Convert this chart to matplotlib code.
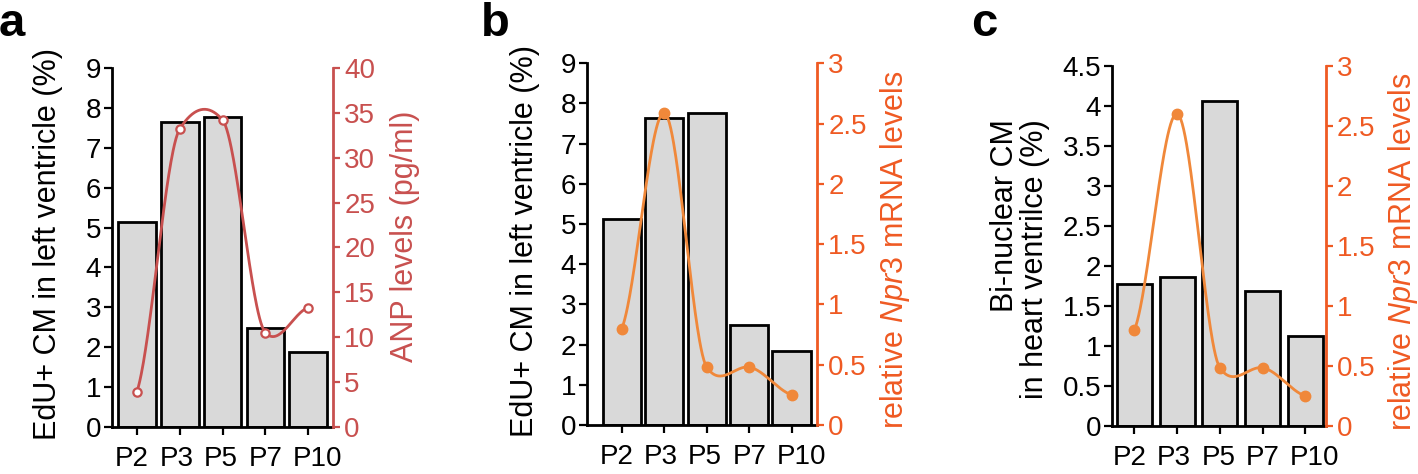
import numpy as np
import matplotlib
matplotlib.use("Agg")
import matplotlib.pyplot as plt

plt.rcParams['font.family'] = ['Liberation Sans', 'DejaVu Sans']
plt.rcParams['mathtext.fontset'] = 'custom'
plt.rcParams['mathtext.rm'] = 'Liberation Sans'
plt.rcParams['mathtext.it'] = 'Liberation Sans:italic'

# ---------------- data ----------------
days = ["P2", "P3", "P5", "P7", "P10"]
edu_cm_a = [5.15, 7.65, 7.78, 2.48, 1.87]
anp_levels = [3.9, 33.2, 34.2, 10.5, 13.3]
edu_cm_b = [5.13, 7.64, 7.76, 2.49, 1.84]
npr3_b = [0.80, 2.59, 0.48, 0.48, 0.25]
binuc_cm_c = [1.77, 1.86, 4.06, 1.68, 1.13]
npr3_c = [0.80, 2.60, 0.485, 0.485, 0.25]

edu_ticks = [0, 1, 2, 3, 4, 5, 6, 7, 8, 9]
anp_ticks = [0, 5, 10, 15, 20, 25, 30, 35, 40]
npr3_ticks = [0, 0.5, 1, 1.5, 2, 2.5, 3]
binuc_ticks = [0, 0.5, 1, 1.5, 2, 2.5, 3, 3.5, 4, 4.5]

RED = "#c8504f"
ORANGE_AX = "#ef5a23"
ORANGE_LN = "#f0883a"
BAR = "#d9d9d9"
FS = 20
LFS = 22


def smooth_curve(x, y, s=0.5, n=60):
    """Cardinal (Hermite) smoothing as used for 'smoothed line' charts."""
    x = np.asarray(x, float); y = np.asarray(y, float)
    k = len(x)
    m = np.empty(k)
    for i in range(k):
        if i == 0:
            m[i] = s * (y[1] - y[0]) / (x[1] - x[0])
        elif i == k - 1:
            m[i] = s * (y[-1] - y[-2]) / (x[-1] - x[-2])
        else:
            m[i] = s * (y[i + 1] - y[i - 1]) / (x[i + 1] - x[i - 1])
    xs_all, ys_all = [], []
    for i in range(k - 1):
        h = x[i + 1] - x[i]
        t = np.linspace(0, 1, n)
        h00 = 2 * t**3 - 3 * t**2 + 1
        h10 = t**3 - 2 * t**2 + t
        h01 = -2 * t**3 + 3 * t**2
        h11 = t**3 - t**2
        xs_all.append(x[i] + t * h)
        ys_all.append(h00 * y[i] + h10 * h * m[i] + h01 * y[i + 1] + h11 * h * m[i + 1])
    return np.concatenate(xs_all), np.concatenate(ys_all)


fig = plt.figure(figsize=(14.18, 4.74), dpi=100)


def panel(rect, xlim, bar_vals, bar_w, lticks, llabel,
          rvals, rticks, rlabel, rcolor, lcolor, filled,
          letter, letter_x, llabel_xy, rlabel_xy):
    ax = fig.add_axes(rect)
    x = np.arange(len(days))
    ax.bar(x, bar_vals, width=bar_w, color=BAR, edgecolor='black', linewidth=2.0, zorder=2)
    ax.set_xlim(*xlim)
    ax.set_ylim(0, lticks[-1])
    ax.set_yticks(lticks)
    ax.set_yticklabels(['%g' % t for t in lticks])
    ax.set_xticks(x)
    ax.set_xticklabels([])
    # category labels, slightly offset from their ticks as in the original
    for i, d in enumerate(days):
        dx_pt = (-22 + 1.75 * i) * 0.72
        ax.annotate(d, xy=(x[i], 0), xycoords=('data', 'axes fraction'),
                    xytext=(dx_pt, -13.5), textcoords='offset points',
                    ha='left', va='top', fontsize=FS, annotation_clip=False)
    for s in ['top', 'right']:
        ax.spines[s].set_visible(False)
    for s in ['left', 'bottom']:
        ax.spines[s].set_linewidth(2.0)
    ax.tick_params(axis='y', direction='out', length=6, width=1.6, labelsize=FS, pad=2)
    ax.tick_params(axis='x', direction='out', length=6, width=1.6)
    ax.set_ylabel(llabel, fontsize=LFS, linespacing=1.0, multialignment='right')
    ax.yaxis.set_label_coords(*llabel_xy)

    ax2 = ax.twinx()
    ax2.set_ylim(0, rticks[-1])
    ax2.set_yticks(rticks)
    ax2.set_yticklabels(['%g' % t for t in rticks])
    for s in ['top', 'left', 'bottom']:
        ax2.spines[s].set_visible(False)
    ax2.spines['right'].set_color(rcolor)
    ax2.spines['right'].set_linewidth(2.0)
    ax2.tick_params(axis='y', direction='out', length=5, width=1.6, colors=rcolor,
                    labelsize=FS, pad=3)
    ax2.set_ylabel(rlabel, fontsize=LFS, color=rcolor, rotation=90)
    ax2.yaxis.set_label_coords(*rlabel_xy)

    xs, ys = smooth_curve(x, rvals)
    ax2.plot(xs, ys, color=lcolor, lw=2.0, zorder=3, clip_on=False)
    if filled:
        ax2.plot(x, rvals, 'o', color=lcolor, ms=7.5, zorder=4, clip_on=False)
    else:
        ax2.plot(x, rvals, 'o', mfc='white', mec=lcolor, mew=1.6, ms=6, zorder=4, clip_on=False)
    fig.text(letter_x, 0.995, letter, fontsize=34, fontweight='bold', va='top', ha='left')
    return ax, ax2


panel([0.0790, 0.0992, 0.1559, 0.7574], (-0.58, 4.58), edu_cm_a, 0.88,
      edu_ticks, "EdU+ CM in left ventricle (%)",
      anp_levels, anp_ticks, "ANP levels (pg/ml)",
      RED, RED, False, 'a', -0.001, (-0.222, 0.51), (1.258, 0.53))

panel([0.4140, 0.1034, 0.1622, 0.7631], (-0.82, 4.6), edu_cm_b, 0.9,
      edu_ticks, "EdU+ CM in left ventricle (%)",
      npr3_b, npr3_ticks, r"relative $\mathit{Npr3}$ mRNA levels",
      ORANGE_AX, ORANGE_LN, True, 'b', 0.339, (-0.204, 0.51), (1.265, 0.485))

panel([0.7844, 0.1013, 0.1505, 0.7601], (-0.52, 4.48), binuc_cm_c, 0.82,
      binuc_ticks, "Bi-nuclear CM\nin heart ventrilce (%)",
      npr3_c, npr3_ticks, r"relative $\mathit{Npr3}$ mRNA levels",
      ORANGE_AX, ORANGE_LN, True, 'c', 0.685, (-0.292, 0.4635), (1.283, 0.483))

fig.savefig("out.png", dpi=100)
